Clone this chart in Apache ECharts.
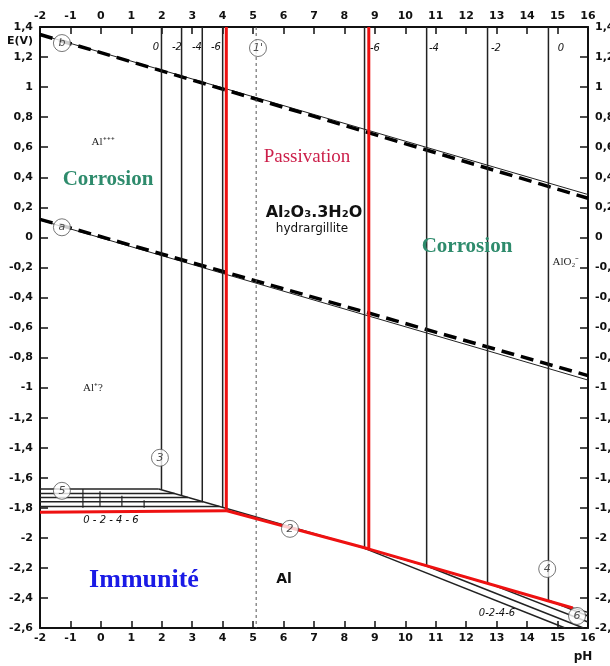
<!DOCTYPE html>
<html>
<head>
<meta charset="utf-8">
<script src="https://cdn.jsdelivr.net/npm/echarts@6/dist/echarts.min.js"></script>
<style>
  html, body { margin: 0; padding: 0; background: #fff; }
  #chart { width: 610px; height: 666px; }
</style>
</head>
<body>
<div id="chart"></div>
<script>
// axes ranges
const phRange = [-2, 16];
const eRange = [-2.6, 1.4];

// water lines (a, b): thick dashed + thin solid
const oxygenDashed = [[-2, 1.35], [16, 0.26]];
const oxygenThin = [[-2, 1.35], [16, 0.285]];
const hydrogenDashed = [[-2, 0.12], [16, -0.92]];
const hydrogenThin = [[-2, 0.115], [16, -0.95]];

// Al+++ / Al2O3 verticals (log c = 0, -2, -4, -6)
const acidPh = [1.99, 2.65, 3.33, 4.0];
const acidBottomE = [-1.675, -1.718, -1.757, -1.796];

// Al+++ / Al horizontals (line 5)
const alIonE = [-1.675, -1.705, -1.731, -1.76, -1.791];
const alIonEndPh = [1.9, 2.42, 2.86, 3.36, 3.89];

// small markers across the horizontal bundle
const bundleTickPh = [-0.59, -0.03, 0.69, 1.42];
const bundleTickTop = [-1.675, -1.69, -1.72, -1.75];
const bundleTickBottom = [-1.8, -1.79, -1.79, -1.8];

// Al2O3 / Al line (2)
const oxideLine = [[1.9, -1.675], [16, -2.496]];

// AlO2- / Al2O3 verticals (log c = -6, -4, -2, 0)
const alkPh = [8.66, 10.7, 12.7, 14.7];
const alkBottomE = [-2.07, -2.187, -2.30, -2.415];
// AlO2- / Al lines (6), end points
const alkEnd = [[15.25, -2.6], [15.85, -2.6], [16, -2.56], [16, -2.52]];

// dotted line 1'
const dottedPh = 5.1;

// red domain boundaries
const redLeft = [[-2, -1.83], [4.14, -1.82]];
const redVert1 = [[4.12, 1.4], [4.12, -1.82]];
const redSlope = [[4.14, -1.82], [8.78, -2.073], [15.5, -2.467]];
const redVert2 = [[8.8, 1.4], [8.8, -2.07]];

// circled line numbers
const circles = [
  [-1.28, 1.293, 'b'], [-1.28, 0.067, 'a'], [5.16, 1.26, "1'"],
  [1.94, -1.467, '3'], [-1.28, -1.687, '5'], [6.21, -1.94, '2'],
  [14.66, -2.207, '4'], [15.64, -2.52, '6']
];

const fmt = v => String(Math.round(v * 10) / 10).replace('.', ',');

const series = [];
function seg(points, color, width, type, z) {
  series.push({
    type: 'line', data: points, symbol: 'none', silent: true,
    lineStyle: { color: color, width: width, type: type || 'solid' },
    z: z || 2, animation: false
  });
}

seg(oxygenThin, '#222', 1);
seg(hydrogenThin, '#222', 1);
seg(oxygenDashed, '#000', 3.5, [13, 7]);
seg(hydrogenDashed, '#000', 3.5, [13, 7]);

acidPh.forEach((p, i) => seg([[p, 1.4], [p, acidBottomE[i]]], '#222', 1.5));
alIonE.forEach((e, i) => seg([[-2, e], [alIonEndPh[i], e]], '#222', 1.5));
bundleTickPh.forEach((p, i) => seg([[p, bundleTickTop[i]], [p, bundleTickBottom[i]]], '#222', 1.2));
seg(oxideLine, '#222', 1.5);
alkPh.forEach((p, i) => {
  seg([[p, 1.4], [p, alkBottomE[i]]], '#222', 1.5);
  seg([[p, alkBottomE[i]], alkEnd[i]], '#222', 1.5);
});
seg([[dottedPh, 1.4], [dottedPh, -2.6]], '#555', 1, [3, 3]);

seg(redLeft, '#ee1111', 3, 'solid', 5);
seg(redVert1, '#ee1111', 3, 'solid', 5);
seg(redSlope, '#ee1111', 3, 'solid', 5);
seg(redVert2, '#ee1111', 3, 'solid', 5);

series.push({
  type: 'scatter', data: circles, symbol: 'circle', symbolSize: 17, z: 10,
  itemStyle: { color: '#fff', borderColor: '#555', borderWidth: 1 },
  label: {
    show: true, position: 'inside', formatter: p => p.value[2],
    color: '#222', fontSize: 11, fontStyle: 'italic', fontFamily: 'DejaVu Sans'
  },
  animation: false
});

const axisFont = { color: '#111', fontSize: 11, fontWeight: 'bold', fontFamily: 'DejaVu Sans' };

const xBase = {
  type: 'value', min: phRange[0], max: phRange[1], interval: 1,
  axisLine: { onZero: false, lineStyle: { color: '#111', width: 2 } },
  axisTick: { inside: true, length: 7, lineStyle: { color: '#111', width: 1.5 } },
  splitLine: { show: false },
  axisLabel: Object.assign({ margin: 5 }, axisFont)
};
const yBase = {
  type: 'value', min: eRange[0], max: eRange[1], interval: 0.2,
  axisLine: { onZero: false, lineStyle: { color: '#111', width: 2 } },
  axisTick: { inside: true, length: 8, lineStyle: { color: '#111', width: 1.5 } },
  splitLine: { show: false },
  axisLabel: Object.assign({ margin: 7, formatter: fmt }, axisFont)
};

function txt(x, y, text, font, fill, align) {
  return {
    type: 'text', x: x, y: y, z: 20,
    style: { text: text, font: font, fill: fill || '#111', textAlign: align || 'center', textVerticalAlign: 'middle' }
  };
}

const italic = 'italic 10px "DejaVu Sans"';
const graphics = [
  txt(20, 41, 'E(V)', 'bold 11px "DejaVu Sans"'),
  txt(583, 657, 'pH', 'bold 12px "DejaVu Sans"'),
  txt(103, 142, 'Al⁺⁺⁺', '11px "Liberation Serif"', '#222'),
  txt(93, 388, 'Al⁺?', '11px "Liberation Serif"', '#222'),
  txt(108, 180, 'Corrosion', 'bold 21px "Liberation Serif"', '#2e8b6c'),
  txt(467, 247, 'Corrosion', 'bold 21px "Liberation Serif"', '#2e8b6c'),
  txt(307, 157, 'Passivation', '19px "Liberation Serif"', '#cc1f4a'),
  txt(314, 213, 'Al₂O₃.3H₂O', 'bold 16px "DejaVu Sans"'),
  txt(312, 229, 'hydrargillite', '12px "DejaVu Sans"'),
  txt(566, 262, 'AlO₂⁻', '11px "Liberation Serif"', '#222'),
  txt(144, 580, 'Immunité', 'bold 26px "Liberation Serif"', '#1a1ae6'),
  txt(284, 579, 'Al', 'bold 14px "DejaVu Sans"'),
  txt(156, 47, '0', italic), txt(177, 47, '-2', italic),
  txt(197, 47, '-4', italic), txt(216, 47, '-6', italic),
  txt(375, 48, '-6', italic), txt(434, 48, '-4', italic),
  txt(496, 48, '-2', italic), txt(561, 48, '0', italic),
  txt(111, 520, '0 - 2 - 4 - 6', italic),
  txt(497, 613, '0-2-4-6', italic)
];

const chart = echarts.init(document.getElementById('chart'), null, { renderer: 'canvas' });
chart.setOption({
  backgroundColor: '#fff',
  animation: false,
  grid: { left: 40, right: 22, top: 27, bottom: 38, containLabel: false, outerBoundsMode: 'none' },
  xAxis: [
    Object.assign({ position: 'bottom' }, xBase),
    Object.assign({ position: 'top' }, xBase)
  ],
  yAxis: [
    Object.assign({ position: 'left' }, yBase),
    Object.assign({ position: 'right' }, yBase)
  ],
  series: series,
  graphic: graphics
});
</script>
</body>
</html>
